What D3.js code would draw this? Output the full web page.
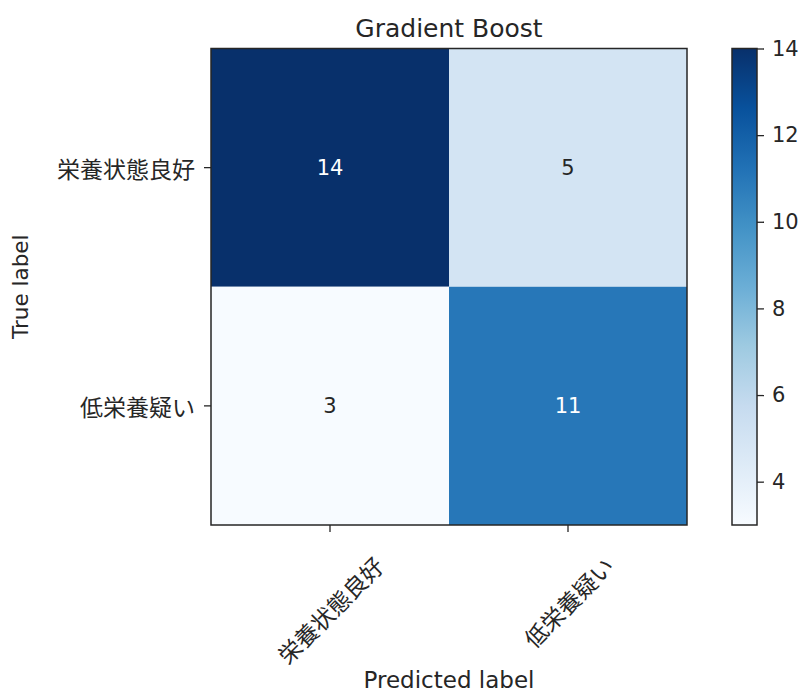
<!DOCTYPE html>
<html><head><meta charset="utf-8">
<script src="https://cdn.jsdelivr.net/npm/d3@7"></script>
<style>body{margin:0;background:#fff}svg{display:block}</style>
</head><body>
<svg id="chart" width="803" height="693"></svg>
<script>
const title = "Gradient Boost";
const trueLabels = ["栄養状態良好", "低栄養疑い"];
const predLabels = ["栄養状態良好", "低栄養疑い"];
const matrix = [[14, 5], [3, 11]];
const colorbarTicks = [4, 6, 8, 10, 12, 14];
const vmin = 3, vmax = 14;
const bluesStops = ["#f7fbff","#deebf7","#c6dbef","#9ecae1","#6baed6","#4292c6","#2171b5","#08519c","#08306b"];

const svg = d3.select("#chart");
const latin = "DejaVu Sans, sans-serif";
const cjk = "'Noto Sans CJK JP', sans-serif";
const L = 211, R = 687, T = 48.5, B = 525;

const color = d3.scaleLinear()
  .domain(bluesStops.map((_, i) => vmin + (vmax - vmin) * i / (bluesStops.length - 1)))
  .range(bluesStops).interpolate(d3.interpolateRgb);

const x = d3.scaleBand().domain(d3.range(predLabels.length)).range([L, R]);
const y = d3.scaleBand().domain(d3.range(trueLabels.length)).range([T, B]);

const cells = [];
matrix.forEach((row, i) => row.forEach((v, j) => cells.push({i, j, v})));

svg.append("g").selectAll("rect").data(cells).join("rect")
  .attr("x", d => x(d.j)).attr("y", d => y(d.i))
  .attr("width", x.bandwidth()).attr("height", y.bandwidth())
  .attr("fill", d => color(d.v));

const thresh = d3.max(cells, d => d.v) / 2;
svg.append("g").selectAll("text").data(cells).join("text")
  .attr("x", d => x(d.j) + x.bandwidth() / 2)
  .attr("y", d => y(d.i) + y.bandwidth() / 2)
  .attr("text-anchor", "middle").attr("dominant-baseline", "central")
  .attr("font-family", latin).attr("font-size", 21)
  .attr("fill", d => d.v > thresh ? "#ffffff" : "#262626")
  .text(d => d.v);

svg.append("rect").attr("x", L).attr("y", T).attr("width", R - L).attr("height", B - T)
  .attr("fill", "none").attr("stroke", "#262626").attr("stroke-width", 1.5);

// y ticks
const yt = svg.append("g");
trueLabels.forEach((lab, i) => {
  const cy = y(i) + y.bandwidth() / 2;
  yt.append("line").attr("x1", L - 7).attr("x2", L).attr("y1", cy).attr("y2", cy)
    .attr("stroke", "#262626").attr("stroke-width", 1.3);
  yt.append("text").attr("x", L - 16).attr("y", cy)
    .attr("text-anchor", "end").attr("dominant-baseline", "central")
    .attr("font-family", cjk).attr("font-size", 23).attr("fill", "#262626").text(lab);
});

// x ticks
const xt = svg.append("g");
predLabels.forEach((lab, j) => {
  const cx = x(j) + x.bandwidth() / 2;
  xt.append("line").attr("x1", cx).attr("x2", cx).attr("y1", B).attr("y2", B + 7)
    .attr("stroke", "#262626").attr("stroke-width", 1.3);
  const g = xt.append("g");
  g.append("text").attr("x", 0).attr("y", 0)
    .attr("text-anchor", "middle").attr("dominant-baseline", "central")
    .attr("font-family", cjk).attr("font-size", 23).attr("fill", "#262626")
    .attr("transform", "rotate(-45)").text(lab);
  const bb = g.node().getBBox();
  g.attr("transform", `translate(${cx - (bb.x + bb.width / 2)},${B + 24 - bb.y})`);
});

// title & axis labels
svg.append("text").attr("x", (L + R) / 2).attr("y", 37).attr("text-anchor", "middle")
  .attr("font-family", latin).attr("font-size", 25).attr("fill", "#262626").text(title);
svg.append("text").attr("x", (L + R) / 2).attr("y", 688).attr("text-anchor", "middle")
  .attr("font-family", latin).attr("font-size", 23).attr("fill", "#262626").text("Predicted label");
svg.append("text").attr("transform", `translate(28,${(T + B) / 2}) rotate(-90)`)
  .attr("text-anchor", "middle")
  .attr("font-family", latin).attr("font-size", 21.5).attr("fill", "#262626").text("True label");

// colorbar
const cbL = 732, cbW = 25;
const cy = d3.scaleLinear().domain([vmin, vmax]).range([B, T]);
const defs = svg.append("defs");
const grad = defs.append("linearGradient").attr("id", "cbg")
  .attr("x1", 0).attr("y1", 1).attr("x2", 0).attr("y2", 0);
bluesStops.forEach((c, i) => grad.append("stop")
  .attr("offset", i / (bluesStops.length - 1)).attr("stop-color", c));
svg.append("rect").attr("x", cbL).attr("y", T).attr("width", cbW).attr("height", B - T)
  .attr("fill", "url(#cbg)").attr("stroke", "#262626").attr("stroke-width", 1.5);
const cbAxis = d3.axisRight(cy).tickValues(colorbarTicks).tickSize(7).tickPadding(8);
const ca = svg.append("g").attr("transform", `translate(${cbL + cbW},0)`).call(cbAxis);
ca.select(".domain").remove();
ca.selectAll("line").attr("stroke", "#262626").attr("stroke-width", 1.3);
ca.selectAll("text").attr("font-family", latin).attr("font-size", 21).attr("fill", "#262626");
</script>
</body></html>
